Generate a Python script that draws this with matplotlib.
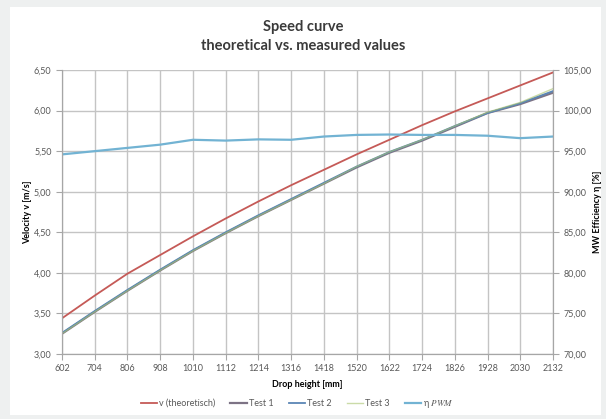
import numpy as np
import matplotlib.pyplot as plt
from matplotlib.patches import Rectangle

plt.rcParams['font.family'] = ['Lato', 'DejaVu Sans']
plt.rcParams['mathtext.fontset'] = 'stix'

# Fallhoehe [mm]
hoehe = [602, 704, 806, 908, 1010, 1112, 1214, 1316, 1418, 1520,
         1622, 1724, 1826, 1928, 2030, 2132]

# Geschwindigkeit [m/s]
v_theo = [3.44, 3.72, 3.99, 4.22, 4.45, 4.67, 4.88, 5.08, 5.27, 5.46,
          5.64, 5.82, 5.99, 6.15, 6.31, 6.47]
test1 = [3.25, 3.52, 3.78, 4.03, 4.27, 4.49, 4.70, 4.90, 5.10, 5.30,
         5.48, 5.63, 5.80, 5.97, 6.08, 6.22]
test2 = [3.26, 3.53, 3.79, 4.04, 4.28, 4.50, 4.71, 4.91, 5.11, 5.31,
         5.49, 5.64, 5.81, 5.97, 6.09, 6.24]
test3 = [3.25, 3.52, 3.78, 4.03, 4.27, 4.49, 4.70, 4.90, 5.10, 5.31,
         5.49, 5.64, 5.81, 5.98, 6.10, 6.27]

# Wirkungsgrad [%]
eta = [94.6, 95.0, 95.4, 95.8, 96.4, 96.3, 96.45, 96.4, 96.8, 97.0,
       97.05, 97.0, 97.0, 96.9, 96.6, 96.8]

x = np.arange(len(hoehe))
komma = lambda v: f"{v:.2f}".replace('.', ',')

fig = plt.figure(figsize=(6.06, 4.19), dpi=100, facecolor='#eef0f0')
fig.patches.append(Rectangle((10 / 606, 4 / 419), 591 / 606, 408 / 419,
                             transform=fig.transFigure, facecolor='white',
                             edgecolor='none', zorder=-10))

ax = fig.add_axes([62 / 606, 1 - 354 / 419, 491 / 606, 284 / 419])
ax2 = ax.twinx()

l1, = ax.plot(x, v_theo, color='#c55a57', lw=1.3, label='v (theoretisch)')
l2, = ax.plot(x, test1, color='#7d7385', lw=1.6, label='Test 1')
l3, = ax.plot(x, test2, color='#5b86b5', lw=1.3, label='Test 2')
l4, = ax.plot(x, test3, color='#a9c46e', lw=1.0, alpha=0.6, label='Test 3')
l5, = ax2.plot(x, eta, color='#72b3d3', lw=1.6, label=r'η $PWM$')

ax.set_xlim(0, len(hoehe) - 1)
ax.set_ylim(3.0, 6.5)
ax2.set_ylim(70, 105)

ax.set_xticks(x)
ax.set_xticklabels([str(h) for h in hoehe])
yt = np.arange(3.0, 6.51, 0.5)
ax.set_yticks(yt)
ax.set_yticklabels([komma(v) for v in yt])
yt2 = np.arange(70, 105.1, 5)
ax2.set_yticks(yt2)
ax2.set_yticklabels([komma(v) for v in yt2])

ax.grid(True, color='#c4c4c4', lw=1.0)
ax.set_axisbelow(True)
for a in (ax, ax2):
    a.tick_params(labelsize=6.5, colors='#a6a6a6', labelcolor='#595959',
                  length=4, width=0.8)
    a.spines['top'].set_visible(False)
    for s in ('left', 'right', 'bottom'):
        a.spines[s].set_color('#a6a6a6')

ax.set_xlabel('Drop height [mm]', fontsize=6.5, fontweight='bold', labelpad=5)
ax.set_ylabel('Velocity v [m/s]', fontsize=6.5, fontweight='bold', labelpad=1)
ax2.set_ylabel('MW Efficiency η [%]', fontsize=6.5, fontweight='bold',
               rotation=90, labelpad=1)

fig.text(0.5, 1 - 27 / 419, 'Speed curve', ha='center', va='center',
         fontsize=10.5, fontweight='bold', color='#3a3a3a')
fig.text(0.5, 1 - 46 / 419, 'theoretical vs. measured values', ha='center',
         va='center', fontsize=10.5, fontweight='bold', color='#3a3a3a')

fig.legend(handles=[l1, l2, l3, l4, l5], loc='center',
           bbox_to_anchor=(0.49, 1 - 404 / 419), ncol=5, frameon=False,
           fontsize=6.5, handlelength=1.8, handletextpad=0.2,
           columnspacing=1.7, labelcolor='#595959')

fig.savefig('out.png', dpi=100, facecolor=fig.get_facecolor())
